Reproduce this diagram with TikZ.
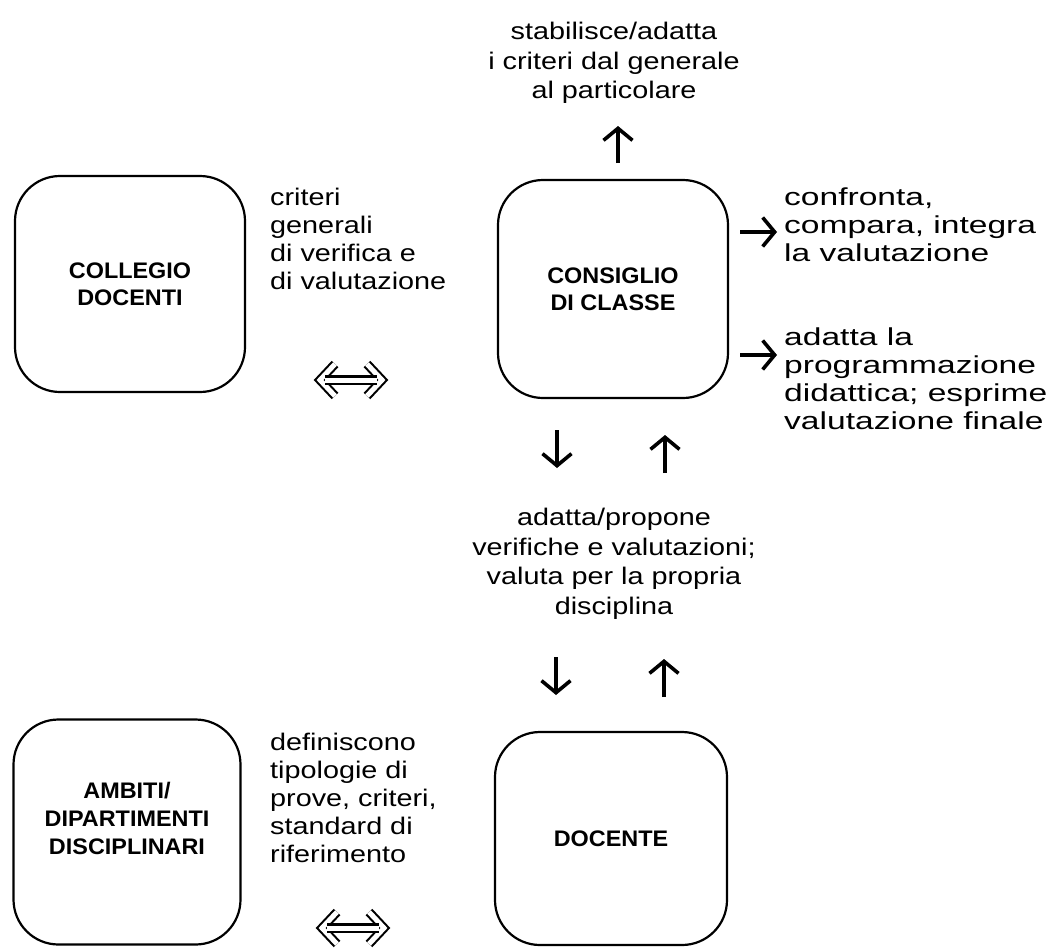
\documentclass[tikz,border=0pt]{standalone}
\usepackage{fontspec}
\setmainfont{Liberation Sans}
\newfontfamily\lblfont[FakeStretch=1.2]{Liberation Sans}
\newfontfamily\rgtfont[FakeStretch=1.37]{Liberation Sans}
\newfontfamily\boxfont[FakeStretch=1.04]{Liberation Sans}
\usetikzlibrary{arrows.meta}
\begin{document}
\begin{tikzpicture}[x=1pt,y=-1pt,
  box/.style={draw, line width=2.2pt, rounded corners=45pt, inner sep=0pt,
    font=\boxfont\bfseries\fontsize{22.5}{27}\selectfont, align=center},
  boxlbl/.style={inner sep=0pt, align=center, font=\boxfont\bfseries\fontsize{22.5}{28}\selectfont},
  txtl/.style={font=\lblfont\fontsize{24}{28}\selectfont, align=left, anchor=north west, inner sep=0pt},
  txtr/.style={font=\rgtfont\fontsize{24.5}{28}\selectfont, align=left, anchor=north west, inner sep=0pt},
  txtc/.style={font=\lblfont\fontsize{24}{29.5}\selectfont, align=center, anchor=north, inner sep=0pt},
  arr/.style={line width=3.6pt, -{Straight Barb[length=12pt,width=29pt,line width=3.6pt]}},
  hol/.style={double, double distance=5pt, line width=2.1pt},
  dblarr/.pic={
    \draw[hol, line join=miter, miter limit=4] (-16,-16) -- (-31,0) -- (-16,16);
    \draw[hol, line join=miter, miter limit=4] (16,-16) -- (31,0) -- (16,16);
    \draw[hol, line cap=butt] (-26,0) -- (26,0);
  }]
\useasboundingbox (0,0) rectangle (1055,948);

% boxes
\node[box, minimum width=230pt, minimum height=216pt] (collegio) at (130,284) {COLLEGIO\\DOCENTI};
\node[box, minimum width=230pt, minimum height=218pt] (consiglio) at (613,289) {CONSIGLIO\\DI CLASSE};
\node[box, minimum width=227pt, minimum height=225pt] (ambiti) at (127,832) {};
\node[boxlbl] (ambl) at (127,818) {AMBITI/\\DIPARTIMENTI\\DISCIPLINARI};
\node[box, minimum width=232pt, minimum height=213pt] (docente) at (611,838.5) {DOCENTE};

% texts
\node[txtc] (top) at (614,22) {stabilisce/adatta\\i criteri dal generale\\al particolare};
\node[txtl] (crit) at (270,188) {criteri\\generali\\di verifica e\\di valutazione};
\node[txtr] (conf) at (784,188) {confronta,\\compara, integra\\la valutazione};
\node[txtr] (adat) at (784,328) {adatta la\\programmazione\\didattica; esprime\\valutazione finale};
\node[txtc] (mid) at (614,508) {adatta/propone\\verifiche e valutazioni;\\valuta per la propria\\disciplina};
\node[txtl] (defi) at (270,733) {definiscono\\tipologie di\\prove, criteri,\\standard di\\riferimento};

% arrow coordinates
\coordinate (upA) at (618,163);  \coordinate (upB) at (618,126);
\coordinate (r1A) at (740,232);  \coordinate (r1B) at (777,232);
\coordinate (r2A) at (740,355);  \coordinate (r2B) at (777,355);
\coordinate (d1A) at (557,430);  \coordinate (d1B) at (557,468);
\coordinate (u1A) at (665,473);  \coordinate (u1B) at (665,435);
\coordinate (d2A) at (556,657);  \coordinate (d2B) at (556,695);
\coordinate (u2A) at (664,697);  \coordinate (u2B) at (664,659);
\coordinate (h1) at (351,380);
\coordinate (h2) at (353,928);

\draw[arr] (upA) -- (upB);
\draw[arr] (r1A) -- (r1B);
\draw[arr] (r2A) -- (r2B);
\draw[arr] (d1A) -- (d1B);
\draw[arr] (u1A) -- (u1B);
\draw[arr] (d2A) -- (d2B);
\draw[arr] (u2A) -- (u2B);
\pic at (h1) {dblarr};
\pic at (h2) {dblarr};
\end{tikzpicture}
\end{document}
